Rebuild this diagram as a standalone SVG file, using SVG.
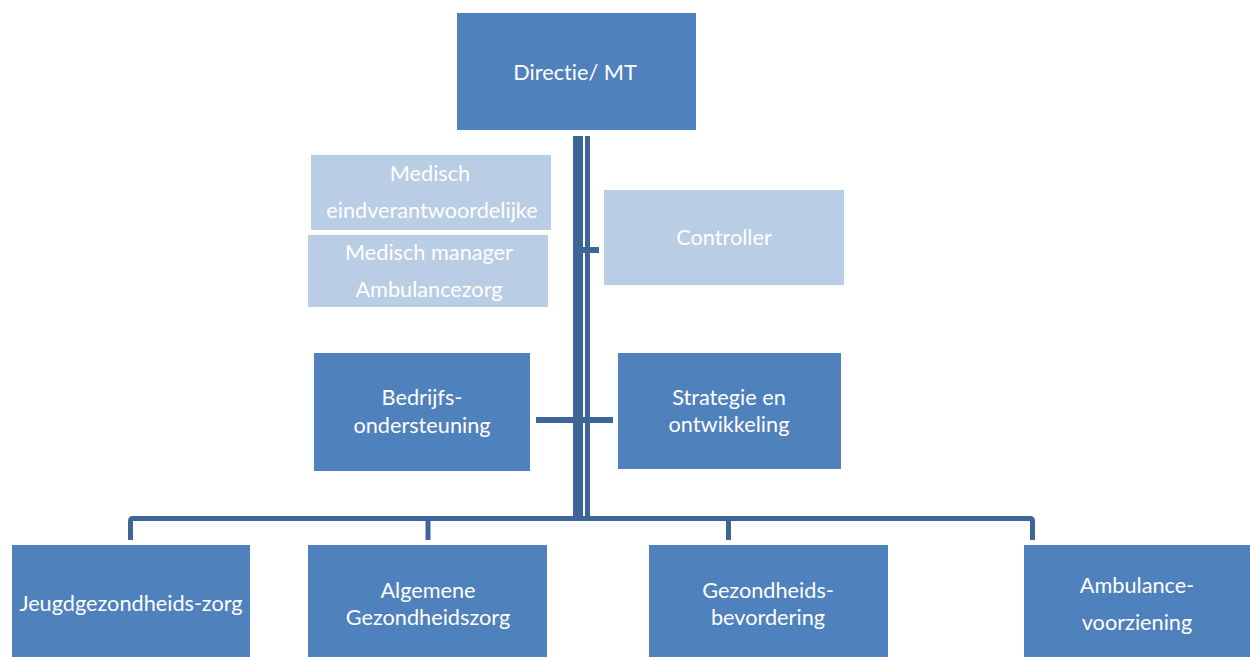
<svg xmlns="http://www.w3.org/2000/svg" width="1250" height="657" viewBox="0 0 1250 657">
<style>
.dark{fill:#4F81BD;}
.light{fill:#B9CDE5;}
.t{font-family:Lato,"Open Sans",sans-serif;font-size:21.7px;fill:#FFFFFF;text-anchor:middle;font-variant-ligatures:none;}
.ln{fill:none;stroke:#3F6598;stroke-linejoin:round;}
</style>
<rect width="1250" height="657" fill="#FFFFFF"/>
<g id="connectors">
<rect x="573" y="136" width="10" height="385" fill="#3F6598"/>
<rect x="585" y="136" width="5" height="385" fill="#3F6598"/>
<line class="ln" x1="582" y1="250" x2="599" y2="250" stroke-width="6"/>
<line class="ln" x1="536" y1="420" x2="613" y2="420" stroke-width="6"/>
<path class="ln" d="M130.5,540 V521 Q130.5,518.5 133,518.5 H1030 Q1032.5,518.5 1032.5,521 V540" stroke-width="5"/>
<line class="ln" x1="428" y1="518" x2="428" y2="540" stroke-width="5"/>
<line class="ln" x1="728.5" y1="518" x2="728.5" y2="540" stroke-width="5"/>
</g>
<g id="directie"><rect class="dark" x="457" y="13" width="239" height="117"/><text class="t" x="575" y="80">Directie/ MT</text></g>
<g id="medisch-eind"><rect class="light" x="311" y="155" width="240" height="75"/><text class="t" x="430" y="181">Medisch</text><text class="t" x="432" y="218">eindverantwoordelijke</text></g>
<g id="medisch-manager"><rect class="light" x="308" y="235" width="240" height="72"/><text class="t" x="429" y="260">Medisch manager</text><text class="t" x="429" y="297">Ambulancezorg</text></g>
<g id="controller"><rect class="light" x="604" y="190" width="240" height="95"/><text class="t" x="724" y="245">Controller</text></g>
<g id="bedrijfs"><rect class="dark" x="314" y="353" width="216" height="118"/><text class="t" x="422" y="405">Bedrijfs-</text><text class="t" x="422" y="433">ondersteuning</text></g>
<g id="strategie"><rect class="dark" x="618" y="353" width="223" height="116"/><text class="t" x="729" y="405">Strategie en</text><text class="t" x="729" y="432">ontwikkeling</text></g>
<g id="jeugd"><rect class="dark" x="12" y="545" width="238" height="112"/><text class="t" x="131" y="611">Jeugdgezondheids-zorg</text></g>
<g id="algemene"><rect class="dark" x="308" y="545" width="239" height="112"/><text class="t" x="428" y="598">Algemene</text><text class="t" x="428" y="625">Gezondheidszorg</text></g>
<g id="gezondheids"><rect class="dark" x="649" y="545" width="239" height="112"/><text class="t" x="768" y="598">Gezondheids-</text><text class="t" x="768" y="625">bevordering</text></g>
<g id="ambulance"><rect class="dark" x="1024" y="545" width="226" height="112"/><text class="t" x="1137" y="593">Ambulance-</text><text class="t" x="1137" y="630">voorziening</text></g>
</svg>
